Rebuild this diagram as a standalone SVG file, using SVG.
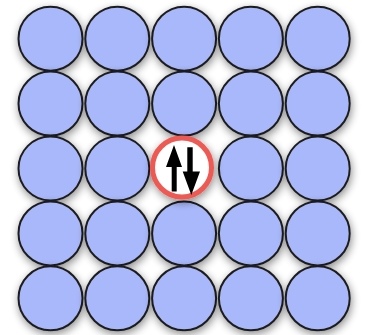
<svg xmlns="http://www.w3.org/2000/svg" width="365" height="335" viewBox="0 0 365 335">
<defs>
<filter id="sh" x="-40%" y="-40%" width="180%" height="180%">
<feGaussianBlur in="SourceAlpha" stdDeviation="4"/>
<feOffset dx="1" dy="3" result="b"/>
<feComponentTransfer><feFuncA type="linear" slope="0.45"/></feComponentTransfer>
<feMerge><feMergeNode/><feMergeNode in="SourceGraphic"/></feMerge>
</filter>
<style>
.c{fill:#a9b8fb;stroke:#1e1e1e;stroke-width:2;filter:url(#sh)}
.r{fill:#ffffff;stroke:#ee5a52;stroke-width:5;filter:url(#sh)}
.a{fill:#000000}
</style>
</defs>
<rect width="365" height="335" fill="#ffffff"/>
<g id="row1">
<circle id="n11" class="c" cx="50.5" cy="38.7" r="32"/>
<circle id="n12" class="c" cx="117.3" cy="38.7" r="32"/>
<circle id="n13" class="c" cx="184.1" cy="38.7" r="32"/>
<circle id="n14" class="c" cx="250.9" cy="38.7" r="32"/>
<circle id="n15" class="c" cx="317.7" cy="38.7" r="32"/>
</g>
<g id="row2">
<circle id="n21" class="c" cx="50.5" cy="103.6" r="32"/>
<circle id="n22" class="c" cx="117.3" cy="103.6" r="32"/>
<circle id="n23" class="c" cx="184.1" cy="103.6" r="32"/>
<circle id="n24" class="c" cx="250.9" cy="103.6" r="32"/>
<circle id="n25" class="c" cx="317.7" cy="103.6" r="32"/>
</g>
<g id="row3">
<circle id="n31" class="c" cx="50.5" cy="168.5" r="32"/>
<circle id="n32" class="c" cx="117.3" cy="168.5" r="32"/>
<circle id="n34" class="c" cx="250.9" cy="168.5" r="32"/>
<circle id="n35" class="c" cx="317.7" cy="168.5" r="32"/>
</g>
<g id="row4">
<circle id="n41" class="c" cx="50.5" cy="233.4" r="32"/>
<circle id="n42" class="c" cx="117.3" cy="233.4" r="32"/>
<circle id="n43" class="c" cx="184.1" cy="233.4" r="32"/>
<circle id="n44" class="c" cx="250.9" cy="233.4" r="32"/>
<circle id="n45" class="c" cx="317.7" cy="233.4" r="32"/>
</g>
<g id="row5">
<circle id="n51" class="c" cx="50.5" cy="298.3" r="32"/>
<circle id="n52" class="c" cx="117.3" cy="298.3" r="32"/>
<circle id="n53" class="c" cx="184.1" cy="298.3" r="32"/>
<circle id="n54" class="c" cx="250.9" cy="298.3" r="32"/>
<circle id="n55" class="c" cx="317.7" cy="298.3" r="32"/>
</g>
<g id="center">
<circle class="r" cx="182" cy="167.5" r="29.5"/>
<polygon class="a" points="174,145 166,167 171.7,167 171.7,191.5 176.7,191.5 176.7,167 182,167"/>
<polygon class="a" points="191.3,195 182.7,171.5 187.3,171.5 187.3,147.3 192.7,147.3 192.7,171.5 200,171.5"/>
</g>
</svg>
